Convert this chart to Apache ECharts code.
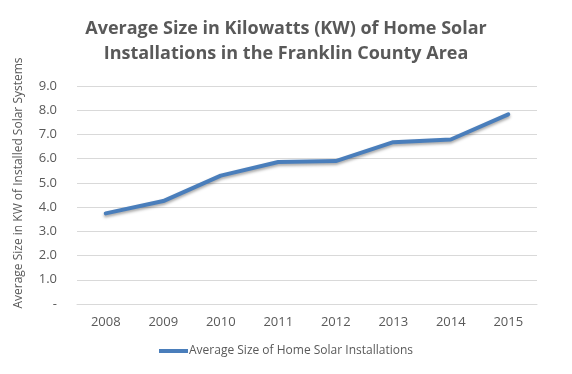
<!DOCTYPE html>
<html><head><meta charset="utf-8">
<script src="https://cdn.jsdelivr.net/npm/echarts@6/dist/echarts.min.js"></script>
<style>html,body{margin:0;padding:0;background:#fff}#c{width:572px;height:374px}</style>
</head><body><div id="c"></div>
<script>
const titleLines = ["Average Size in Kilowatts (KW) of Home Solar", "Installations in the Franklin County Area"];
const years = ["2008","2009","2010","2011","2012","2013","2014","2015"];
const avgSize = [3.74, 4.25, 5.3, 5.86, 5.9, 6.68, 6.79, 7.83];
const seriesName = "Average Size of Home Solar Installations";
const yAxisTitle = "Average Size in KW of Installed Solar Systems";

const chart = echarts.init(document.getElementById('c'));
chart.setOption({
  backgroundColor: '#fff',
  animation: false,
  title: {
    text: titleLines.join('\n'),
    left: 'center', top: 11,
    textStyle: { fontFamily: 'Open Sans', fontWeight: 'bold', fontSize: 18, color: '#595959', lineHeight: 25 }
  },
  legend: {
    bottom: 12, left: 'center',
    itemWidth: 29, itemHeight: 4, itemGap: 0,
    icon: 'rect',
    textStyle: { fontFamily: 'Open Sans', fontSize: 12, color: '#595959', padding: [0,0,0,-4] },
    data: [seriesName]
  },
  graphic: [{
    type: 'text', x: 19, y: 183, rotation: Math.PI / 2,
    style: { text: yAxisTitle, fontFamily: 'Open Sans', fontSize: 12, fill: '#595959',
      align: 'center', verticalAlign: 'middle' }
  }],
  grid: { left: 77, right: 35, top: 86, bottom: 70 },
  xAxis: {
    type: 'category', data: years, boundaryGap: true,
    axisLine: { lineStyle: { color: '#d9d9d9', width: 1 } },
    axisTick: { show: false },
    axisLabel: { fontFamily: 'Open Sans', fontSize: 13, color: '#595959', margin: 12 }
  },
  yAxis: {
    type: 'value', min: 0, max: 9, interval: 1,
    axisLine: { show: false }, axisTick: { show: false },
    splitLine: { lineStyle: { color: '#d9d9d9', width: 1 } },
    axisLabel: { fontFamily: 'Open Sans', fontSize: 13, color: '#595959', margin: 20,
      formatter: v => v === 0 ? '-' : v.toFixed(1) }
  },
  series: [{
    name: seriesName, type: 'line', data: avgSize,
    symbol: 'none',
    itemStyle: { color: '#4a7ebb' },
    lineStyle: { color: '#4a7ebb', width: 4, shadowColor: 'rgba(0,0,0,0.35)', shadowBlur: 3, shadowOffsetY: 2, cap: 'round', join: 'round' }
  }]
});
</script></body></html>
